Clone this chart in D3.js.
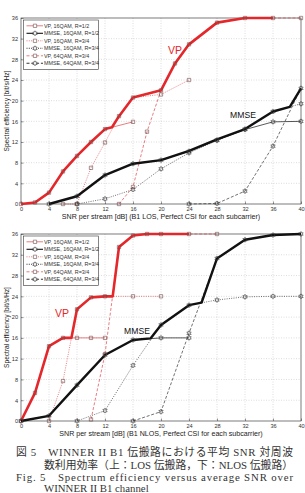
<!DOCTYPE html>
<html>
<head>
<meta charset="utf-8">
<title>Spectrum efficiency vs SNR</title>
<script src="https://cdn.jsdelivr.net/npm/d3@7"></script>
<style>
  body { margin: 0; background: #fff; }
</style>
</head>
<body>
<svg id="lienzo" width="305" height="493"></svg>
<script>
// axis ticks
const snrTicks = [0, 4, 8, 12, 16, 20, 24, 28, 32, 36, 40];
const effTicks = [0, 4, 8, 12, 16, 20, 24, 28, 32, 36];

const legendLabels = ["VP, 16QAM, R=1/2", "MMSE, 16QAM, R=1/2", "VP, 16QAM, R=3/4",
  "MMSE, 16QAM, R=3/4", "VP, 64QAM, R=3/4", "MMSE, 64QAM, R=3/4"];

// B1 LOS  [SNR dB, bit/s/Hz]
const losVp16h = [[0,0],[2,0.3],[4,2.2],[6,6.3],[8,9.3],[10,12],[12,14.5],[16,15.9]];
const losMmse16h = [[4,0],[8,1.5],[12,5.6],[16,7.8],[20,8.5],[24,10.2],[28,12.4],[32,14.4],[36,15.9],[40,16]];
const losVp16q = [[6,0],[8,0],[10,7],[12,11.9],[14,17],[16,20.6],[20,21.2],[24,24]];
const losMmse16q = [[8,0],[12,1],[16,2.8],[20,6.8],[24,9.9],[28,12.3],[32,14.5],[36,17.9],[40,19.4]];
const losVp64 = [[14,0],[16,3.3],[18,14],[20,22],[22,27.2],[24,30.9],[28,35.1],[32,36],[36,36],[40,36]];
const losMmse64 = [[24,0],[28,0.1],[32,2.5],[36,11.2],[40,22.4]];
const losVpBest = [[0,0],[2,0.3],[4,2.2],[6,6.3],[8,9.3],[10,12],[12,14.5],[13,14.85],[14,17],[16,20.6],[20,22],[22,27.2],[24,30.9],[28,35.1],[32,36],[36,36]];
const losMmseBest = [[4,0],[8,1.5],[12,5.6],[16,7.8],[20,8.5],[24,10.3],[28,12.5],[32,14.5],[36,17.9],[38.4,18.8],[40,22.4]];

// B1 NLOS
const nlosVp16h = [[0,0],[2,5.4],[4,14.4],[6,16],[8,16],[10,16],[12,16]];
const nlosMmse16h = [[0,0],[4,1],[8,6.9],[12,12.7],[16,15.6],[20,16],[24,16]];
const nlosVp16q = [[4,0],[6,7.7],[8,21.5],[10,23.8],[12,24],[16,24],[20,24]];
const nlosMmse16q = [[8,0],[12,2],[16,10.7],[20,18.5],[24,22.3],[28,23.3],[32,23.9],[36,24],[40,24]];
const nlosVp64 = [[10,0.3],[12,12.9],[14,33.5],[16,35.7],[18,36],[20,36],[24,36],[28,36]];
const nlosMmse64 = [[16,0],[20,1.8],[24,16.9],[28,31.3],[32,34.9],[36,35.8],[40,36]];
const nlosVpBest = [[0,0],[2,5.4],[4,14.4],[6,16],[7.2,16],[8,21.5],[10,23.8],[12,24],[13.1,24],[14,33.5],[16,35.7],[18,36],[20,36],[24,36]];
const nlosMmseBest = [[0,0],[4,1],[8,6.9],[12,12.7],[16,15.6],[18.5,15.9],[20,18.5],[24,22.3],[25.8,22.8],[28,31.3],[32,34.9],[36,35.8],[40,36]];

const captionLines = [
  "図 5　WINNER II B1 伝搬路における平均 SNR 対周波",
  "数利用効率（上：LOS 伝搬路，下：NLOS 伝搬路）",
  "Fig. 5　Spectrum efficiency versus average SNR over",
  "WINNER II B1 channel"
];

const RED = "#e5262a";
const THIN_RED = "#e0454c";
const BLACK = "#111";

// six-pointed star (matlab 'h' marker)
const hexagram = {
  draw(ctx, size) {
    const ro = Math.sqrt(size) * 0.62, ri = ro * 0.55;
    for (let i = 0; i < 12; i++) {
      const a = -Math.PI / 2 + i * Math.PI / 6;
      const r = i % 2 === 0 ? ro : ri;
      if (i === 0) ctx.moveTo(r * Math.cos(a), r * Math.sin(a));
      else ctx.lineTo(r * Math.cos(a), r * Math.sin(a));
    }
    ctx.closePath();
  }
};

// line styles per legend entry
const styles = [
  { color: THIN_RED, dash: null, marker: d3.symbolSquare, mcolor: "#6b4a48" },
  { color: BLACK, dash: null, marker: hexagram, mcolor: "#333" },
  { color: THIN_RED, dash: "1,1.3", marker: d3.symbolSquare, mcolor: "#6b4a48" },
  { color: "#333", dash: "1,1.3", marker: hexagram, mcolor: "#333" },
  { color: THIN_RED, dash: "3,1.8", marker: d3.symbolSquare, mcolor: "#6b4a48" },
  { color: "#333", dash: "3,1.8", marker: hexagram, mcolor: "#333" }
];

const svg = d3.select("#lienzo").style("font-family", "Liberation Sans, Arial, sans-serif");

function drawPanel(top, bottom, series, vpBest, mmseBest, xTitle, labels) {
  const left = 21, right = 301;
  const x = d3.scaleLinear().domain([0, 40]).range([left, right]);
  const y = d3.scaleLinear().domain([0, 36]).range([bottom, top]);
  const g = svg.append("g");

  // grid
  g.selectAll(".gx").data(snrTicks.slice(1, -1)).enter().append("line")
    .attr("x1", d => x(d)).attr("x2", d => x(d)).attr("y1", top).attr("y2", bottom)
    .attr("stroke", "#bbb").attr("stroke-width", 0.5).attr("stroke-dasharray", "1,1.5");
  g.selectAll(".gy").data(effTicks.slice(1, -1)).enter().append("line")
    .attr("x1", left).attr("x2", right).attr("y1", d => y(d)).attr("y2", d => y(d))
    .attr("stroke", "#bbb").attr("stroke-width", 0.5).attr("stroke-dasharray", "1,1.5");

  // axes
  const xAxis = g.append("g").attr("transform", "translate(0," + bottom + ")")
    .call(d3.axisBottom(x).tickValues(snrTicks).tickSize(-2.5).tickPadding(3));
  const yAxis = g.append("g").attr("transform", "translate(" + left + ",0)")
    .call(d3.axisLeft(y).tickValues(effTicks).tickSize(-2.5).tickPadding(3));
  [xAxis, yAxis].forEach(a => {
    a.select(".domain").remove();
    a.selectAll("line").attr("stroke", "#333").attr("stroke-width", 0.5);
    a.selectAll("text").attr("font-size", 5.6).attr("fill", "#333")
      .attr("font-family", "Liberation Sans, Arial, sans-serif");
  });
  g.append("rect").attr("x", left).attr("y", top).attr("width", right - left).attr("height", bottom - top)
    .attr("fill", "none").attr("stroke", "#222").attr("stroke-width", 0.6);

  const line = d3.line().x(d => x(d[0])).y(d => y(d[1]));

  // thin series
  series.forEach((s, i) => {
    const st = styles[i];
    g.append("path").datum(s).attr("d", line).attr("fill", "none")
      .attr("stroke", st.color).attr("stroke-width", 0.7)
      .attr("stroke-dasharray", st.dash);
  });

  // envelopes
  g.append("path").datum(vpBest).attr("d", line).attr("fill", "none")
    .attr("stroke", RED).attr("stroke-width", 2.6).attr("stroke-linejoin", "round");
  g.append("path").datum(mmseBest).attr("d", line).attr("fill", "none")
    .attr("stroke", BLACK).attr("stroke-width", 2.4).attr("stroke-linejoin", "round");

  // markers
  series.forEach((s, i) => {
    const st = styles[i];
    g.selectAll(null).data(s).enter().append("path")
      .attr("d", d3.symbol().type(st.marker).size(st.marker === hexagram ? 16 : 11))
      .attr("transform", d => "translate(" + x(d[0]) + "," + y(d[1]) + ")")
      .attr("fill", "none").attr("stroke", st.mcolor).attr("stroke-width", 0.6);
  });

  // legend
  const lg = g.append("g");
  lg.append("rect").attr("x", 23.5).attr("y", top + 2).attr("width", 75).attr("height", 49.5)
    .attr("fill", "#fff").attr("stroke", "#333").attr("stroke-width", 0.6);
  legendLabels.forEach((lab, i) => {
    const st = styles[i];
    const ly = top + 7.8 + i * 7.5;
    lg.append("line").attr("x1", 26.5).attr("x2", 43).attr("y1", ly).attr("y2", ly)
      .attr("stroke", st.color).attr("stroke-width", i % 2 === 1 ? 1.1 : 0.7)
      .attr("stroke-dasharray", st.dash);
    lg.append("path").attr("d", d3.symbol().type(st.marker).size(st.marker === hexagram ? 16 : 11))
      .attr("transform", "translate(35," + ly + ")")
      .attr("fill", "#fff").attr("stroke", st.mcolor).attr("stroke-width", 0.6);
    lg.append("text").attr("x", 44).attr("y", ly + 1.9).attr("font-size", 5.4)
      .attr("fill", "#333").text(lab);
  });

  // annotations
  g.append("text").attr("x", labels.vp[0]).attr("y", labels.vp[1]).attr("font-size", 10.5)
    .attr("fill", RED).attr("text-anchor", "middle").text("VP");
  g.append("text").attr("x", labels.mmse[0]).attr("y", labels.mmse[1]).attr("font-size", 8.6)
    .attr("fill", BLACK).attr("text-anchor", "middle").text("MMSE");

  // axis titles
  g.append("text").attr("x", 161).attr("y", bottom + 14.5).attr("font-size", 7.1)
    .attr("fill", "#222").attr("text-anchor", "middle").text(xTitle);
  g.append("text").attr("transform", "translate(9," + ((top + bottom) / 2) + ") rotate(-90)")
    .attr("font-size", 6.6).attr("fill", "#222").attr("text-anchor", "middle")
    .text("Spectral efficiency [bit/s/Hz]");
}

drawPanel(18, 204,
  [losVp16h, losMmse16h, losVp16q, losMmse16q, losVp64, losMmse64],
  losVpBest, losMmseBest,
  "SNR per stream [dB] (B1 LOS, Perfect CSI for each subcarrier)",
  { vp: [175, 53.5], mmse: [243, 118] });

drawPanel(234, 421,
  [nlosVp16h, nlosMmse16h, nlosVp16q, nlosMmse16q, nlosVp64, nlosMmse64],
  nlosVpBest, nlosMmseBest,
  "SNR per stream [dB] (B1 NLOS, Perfect CSI for each subcarrier)",
  { vp: [62, 317], mmse: [137, 334] });

// caption
const cap = svg.append("g").attr("fill", "#333");
const capX = [16, 44, 16, 44];
const capY = [456, 468.5, 481, 492.3];
const capW = [277, 249, 277, null];
captionLines.forEach((t, i) => {
  const tx = cap.append("text").attr("x", capX[i]).attr("y", capY[i])
    .attr("font-family", "\"Liberation Serif\", \"Noto Sans CJK JP\", serif")
    .attr("font-size", 10.8).text(t);
  if (capW[i]) tx.attr("textLength", capW[i]).attr("lengthAdjust", "spacing");
});
</script>
</body>
</html>
